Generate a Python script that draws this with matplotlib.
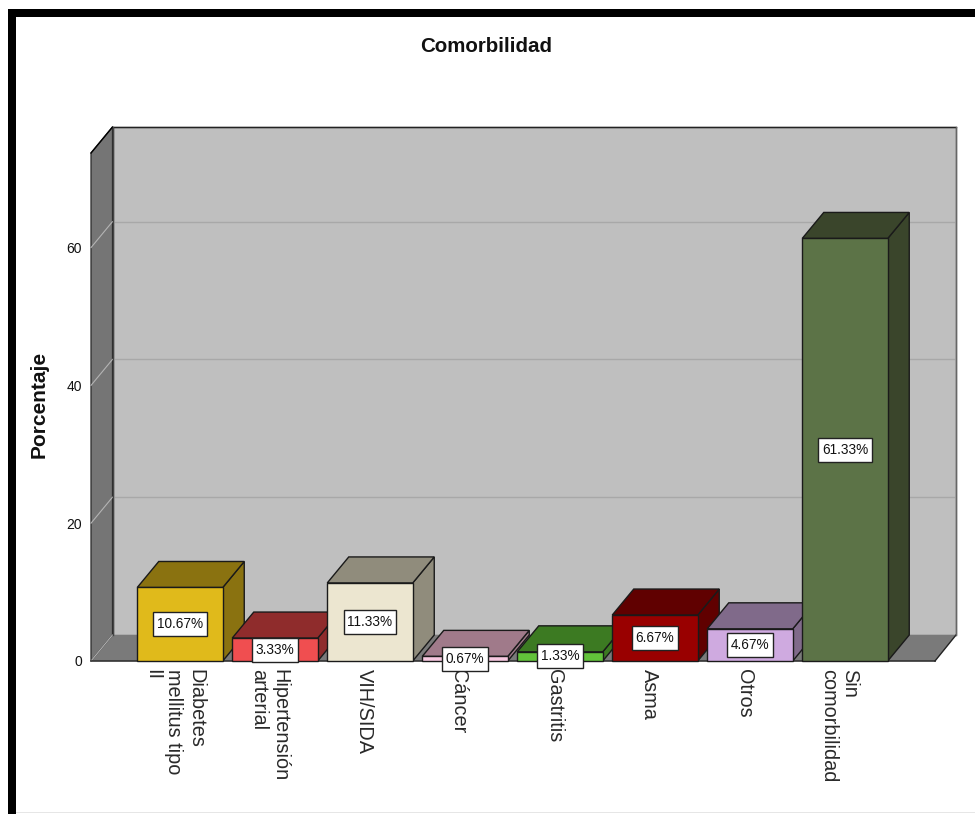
import matplotlib
matplotlib.use("Agg")
import matplotlib.pyplot as plt
from matplotlib.patches import Polygon, Rectangle
from matplotlib.transforms import ScaledTranslation, IdentityTransform

plt.rcParams['font.family'] = ['Liberation Sans', 'DejaVu Sans']

categories = ["Diabetes\nmellitus tipo\nII", "Hipertensión\narterial", "VIH/SIDA", "Cáncer",
              "Gastritis", "Asma", "Otros", "Sin\ncomorbilidad"]
values = [10.67, 3.33, 11.33, 0.67, 1.33, 6.67, 4.67, 61.33]
labels = ["10.67%", "3.33%", "11.33%", "0.67%", "1.33%", "6.67%", "4.67%", "61.33%"]
front_colors = ["#e0ba1b", "#f04e50", "#ece6d0", "#f7c8e0", "#62c23a", "#990000", "#cfaae0", "#5c7347"]
top_colors = ["#8a7210", "#8f2c2c", "#908c7c", "#a07a8a", "#3c7a22", "#600000", "#806a8a", "#3a452b"]
y_ticks = [0, 20, 40, 60]

W, H = 975, 814
fig = plt.figure(figsize=(W / 100, H / 100), dpi=100, facecolor="white")

# Window frame
fig.add_artist(Rectangle((8 / W, 0), 8 / W, 1 - 9 / H, transform=fig.transFigure, fc="black", ec="none"))
fig.add_artist(Rectangle((8 / W, 1 - 17 / H), 1 - 8 / W, 8 / H, transform=fig.transFigure, fc="black", ec="none"))
fig.add_artist(Rectangle((16 / W, 1 / H), 1 - 16 / W, 1.2 / H, transform=fig.transFigure, fc="#e6e6e6", ec="none"))

PX = 95.0           # pixels per category
PY = 6.89           # pixels per unit of percentage
L, R, T, B = 91, 956, 127, 661
ax = fig.add_axes([L / W, 1 - B / H, (R - L) / W, (B - T) / H])
x0 = -(180 - L) / PX
x1 = x0 + (R - L) / PX
ymax = (B - T) / PY
ax.set_xlim(x0, x1)
ax.set_ylim(0, ymax)
ax.patch.set_alpha(0)
for s in ax.spines.values():
    s.set_visible(False)

DX = 21.5 / PX      # oblique depth
DY = 26.0 / PY
BAR_W = 85.5 / PX
xf_end = (935 - 180) / PX
top_front = ymax - DY


def poly(pts, fc, ec="none", lw=0.0, z=1):
    ax.add_patch(Polygon(pts, closed=True, fc=fc, ec=ec, lw=lw, zorder=z, clip_on=False, joinstyle="miter"))


# Back wall, side wall and floor
poly([(x0 + DX, DY), (x1, DY), (x1, ymax), (x0 + DX, ymax)], "#bfbfbf", "#5a5a5a", 1.0, 1)
poly([(x0, 0), (x0 + DX, DY), (x0 + DX, ymax), (x0, top_front)], "#757575", "#2a2a2a", 0.9, 1.2)
poly([(x0, 0), (xf_end, 0), (x1, DY), (x0 + DX, DY)], "#7a7a7a", "none", 0, 1.1)
ax.plot([x0 + DX, x1], [ymax, ymax], color="#222222", lw=1.0, zorder=1.5, clip_on=False)
ax.plot([x0, x0 + DX], [top_front, ymax], color="#000000", lw=1.0, zorder=1.5, clip_on=False)
ax.plot([x0, xf_end], [0, 0], color="#333333", lw=1.2, zorder=1.5, clip_on=False)
ax.plot([xf_end, x1], [0, DY], color="#222222", lw=1.0, zorder=1.5, clip_on=False)
ax.plot([x1, x1], [DY, ymax], color="#666666", lw=1.0, zorder=1.5, clip_on=False)
ax.plot([x0 + DX, x0 + DX], [DY, ymax], color="#444444", lw=1.0, zorder=1.5, clip_on=False)

# Gridlines on the walls
for t in y_ticks:
    if t:
        ax.plot([x0 + DX, x1], [t + DY, t + DY], color="#a8a8a8", lw=1.0, zorder=1.4)
    ax.plot([x0, x0 + DX], [t, t + DY], color="#b4b4b4", lw=0.8, zorder=1.4, clip_on=False)

# Axes ticks and labels
ax.set_yticks(y_ticks)
ax.set_yticklabels([str(t) for t in y_ticks], fontsize=10, color="#111111")
ax.set_xticks(range(len(categories)))
ax.set_xticklabels(categories, rotation=-90, fontsize=14.3, color="#2a2a2a", ha="center", va="top",
                   ma="left", linespacing=1.18)
ax.tick_params(axis="y", length=0, pad=6.5)
ax.tick_params(axis="x", length=0, pad=6)
shift = ScaledTranslation(-6 / 100, 0, fig.dpi_scale_trans)
for lab in ax.get_xticklabels():
    lab.set_transform(lab.get_transform() + shift)

fig.text(486 / W, 1 - 46 / H, "Comorbilidad", ha="center", va="center", fontsize=14.8, fontweight="bold",
         color="#111111")
fig.text(39 / W, 1 - 404 / H, "Porcentaje", ha="center", va="center", rotation=90, fontsize=15,
         fontweight="bold", color="#111111")

# 3D bars with framed value labels
renderer = fig.canvas.get_renderer()
for i, (v, lab, fc, tc) in enumerate(zip(values, labels, front_colors, top_colors)):
    l, r = i - BAR_W / 2, i + BAR_W / 2
    z = 3 + i
    edge = "#1a1a1a"
    poly([(r, 0), (r + DX, DY), (r + DX, v + DY), (r, v)], tc, edge, 1.0, z)
    poly([(l, v), (r, v), (r + DX, v + DY), (l + DX, v + DY)], tc, edge, 1.0, z)
    poly([(l, 0), (r, 0), (r, v), (l, v)], fc, edge, 1.0, z + 0.1)
    t = ax.text(i, v / 2, lab, ha="center", va="center", fontsize=9.8, color="#111111", zorder=21,
                clip_on=False)
    bb = t.get_window_extent(renderer)
    cx, cy = ax.transData.transform((i, v / 2))
    bw, bh = bb.width + 7, 24
    ax.add_artist(Rectangle((cx - bw / 2, cy - bh / 2), bw, bh, transform=IdentityTransform(), fc="white",
                            ec="#222222", lw=1.0, zorder=20, clip_on=False))

fig.savefig("out.png", dpi=100)
